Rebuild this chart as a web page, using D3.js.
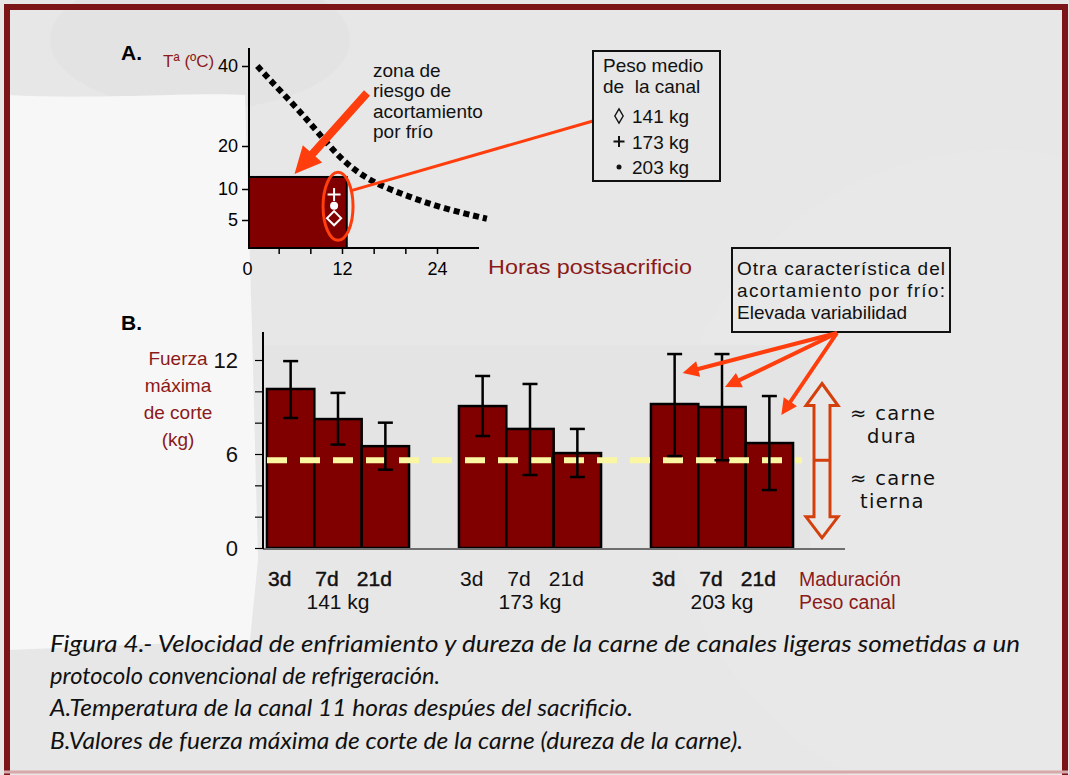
<!DOCTYPE html>
<html>
<head>
<meta charset="utf-8">
<script src="https://cdn.jsdelivr.net/npm/d3@7"></script>
<style>
  body { margin: 0; background: #ffffff; }
  svg { display: block; }
</style>
</head>
<body>
<svg id="fig" width="1069" height="775" font-family="Liberation Sans, Arial, sans-serif"></svg>
<script>
"use strict";

// ---- data: A. cooling curve of the carcass ----
const tempHours  = [1.3, 2.9, 6.3, 8.8, 12.1, 15.9, 20.6, 24.7, 30.3];
const tempValues = [40, 36.5, 29.5, 23.8, 16.3, 11.4, 8.7, 6.9, 5.2];
const tempTicks  = [5, 10, 20, 40];
const hourLabels = [0, 12, 24];
const hourTicks  = [4, 8, 12, 16, 20, 24];
const riskHours  = [0, 12.6];
const riskTemp   = [0, 12.8];
const weightLabels  = ["141 kg", "173 kg", "203 kg"];
const weightSymbols = ["diamond", "plus", "dot"];
const tempAt11h     = [5.3, 9.1, 7.3];
const sampleHour    = 11;

// ---- data: B. shear force (kg) ----
const agingDays  = ["3d", "7d", "21d"];
const weightGroups = ["141 kg", "173 kg", "203 kg"];
const forceMean  = [[10.15, 8.23, 6.5], [9.06, 7.6, 6.06], [9.19, 9.0, 6.7]];
const forceLow   = [[8.3, 6.6, 5.0], [7.15, 4.66, 4.53], [5.87, 5.6, 3.7]];
const forceHigh  = [[11.93, 9.9, 8.0], [10.98, 10.47, 7.6], [12.38, 12.38, 9.7]];
const forceTicks = [0, 2, 4, 6, 8, 10, 12];
const forceLabels = [0, 6, 12];
const toughLimit = 5.6;
const variableBars = [[2, 0, 11.17], [2, 1, 10.27], [2, 2, 8.49]]; // group, bar, value pointed at

const DARK = "#800000", RED_TXT = "#8b1a1a", ORANGE = "#ff3d0d";

const svg = d3.select("#fig");

// background + frame
svg.append("rect").attr("x", 0).attr("y", 0).attr("width", 1069).attr("height", 775).attr("fill", "#e7e7e7");
svg.append("ellipse").attr("cx", 200).attr("cy", 40).attr("rx", 150).attr("ry", 70).attr("fill", "#e1e1e1").attr("opacity", 0.6);
svg.append("path")
  .attr("d", "M8,95 C90,100 200,92 245,95 L252,330 L258,560 L250,640 L8,650 Z")
  .attr("fill", "#f7f7f7");
svg.append("circle").attr("cx", 1000).attr("cy", 480).attr("r", 330).attr("fill", "#eaeaea").attr("opacity", 0.6);
svg.append("path").attr("d", "M7,775 L7,7 L1065,7 L1065,775")
  .attr("fill", "none").attr("stroke", "#7c1518").attr("stroke-width", 6);
svg.append("line").attr("x1", 4).attr("x2", 1068).attr("y1", 772).attr("y2", 772)
  .attr("stroke", "#d8a8aa").attr("stroke-width", 3);

// arrow polygon helper
function arrowPts(x1, y1, x2, y2, shaft, headLen, headHalf) {
  const dx = x2 - x1, dy = y2 - y1, len = Math.hypot(dx, dy);
  const ux = dx / len, uy = dy / len, nx = -uy, ny = ux;
  const bx = x2 - ux * headLen, by = y2 - uy * headLen, s = shaft / 2;
  return [[x1 + nx * s, y1 + ny * s], [bx + nx * s, by + ny * s], [bx + nx * headHalf, by + ny * headHalf],
          [x2, y2], [bx - nx * headHalf, by - ny * headHalf], [bx - nx * s, by - ny * s], [x1 - nx * s, y1 - ny * s]];
}
const poly = d3.line();

//------------------------------------------------------------------
// A. temperature panel
const xA = d3.scaleLinear().domain([0, 24]).range([247, 437]);
const yA = d3.scaleLinear().domain([0, 5, 10, 20, 40]).range([248, 220, 189, 146, 66]);
const gA = svg.append("g");

// risk zone
gA.append("rect")
  .attr("x", xA(riskHours[0]) + 2).attr("y", yA(riskTemp[1]))
  .attr("width", xA(riskHours[1]) - xA(riskHours[0]) - 2)
  .attr("height", yA(riskTemp[0]) - yA(riskTemp[1]))
  .attr("fill", DARK).attr("stroke", "#000").attr("stroke-width", 2);

// axes
gA.append("line").attr("x1", xA(0) + 2).attr("x2", xA(0) + 2).attr("y1", 48).attr("y2", yA(0))
  .attr("stroke", "#000").attr("stroke-width", 2);
gA.append("line").attr("x1", xA(0) + 2).attr("x2", 479).attr("y1", yA(0)).attr("y2", yA(0))
  .attr("stroke", "#000").attr("stroke-width", 2);

const axA_y = gA.append("g").attr("transform", `translate(${xA(0) + 2},0)`)
  .call(d3.axisLeft(yA).tickValues(tempTicks).tickSize(7).tickPadding(4));
const axA_x = gA.append("g").attr("transform", `translate(0,${yA(0)})`)
  .call(d3.axisBottom(xA).tickValues(hourTicks).tickSize(6).tickFormat(""));
const axA_xl = gA.append("g").attr("transform", `translate(0,${yA(0)})`)
  .call(d3.axisBottom(xA).tickValues(hourLabels).tickSize(0).tickPadding(14));
[axA_y, axA_x, axA_xl].forEach(a => {
  a.select(".domain").remove();
  a.selectAll("line").attr("stroke", "#000").attr("stroke-width", 1.5);
  a.selectAll("text").attr("font-size", 18).attr("fill", "#000")
    .attr("font-family", "Liberation Sans, Arial, sans-serif");
});

// cooling curve
gA.append("path")
  .datum(tempHours.map((h, i) => [h, tempValues[i]]))
  .attr("d", d3.line().x(d => xA(d[0])).y(d => yA(d[1])).curve(d3.curveBasis))
  .attr("fill", "none").attr("stroke", "#000").attr("stroke-width", 6)
  .attr("stroke-dasharray", "6,4");

// measured carcass temperatures at 11 h
const ex = xA(sampleHour + 0.5), ey = yA(7.2);
gA.append("ellipse").attr("cx", ex).attr("cy", ey).attr("rx", 15).attr("ry", 34)
  .attr("fill", "none").attr("stroke", ORANGE).attr("stroke-width", 3);

function drawSymbol(g, kind, x, y, color, big) {
  if (kind === "diamond") {
    g.append("path").attr("transform", `translate(${x},${y})` + (big ? " rotate(45)" : ""))
      .attr("d", d3.symbol(big ? d3.symbolSquare : d3.symbolDiamond, big ? 100 : 60)())
      .attr("fill", "none").attr("stroke", color).attr("stroke-width", big ? 2 : 1.4);
  } else if (kind === "plus") {
    const r = big ? 6.5 : 5.5;
    g.append("path").attr("d", `M${x - r},${y}H${x + r}M${x},${y - r}V${y + r}`)
      .attr("stroke", color).attr("stroke-width", 2);
  } else {
    g.append("circle").attr("cx", x).attr("cy", y).attr("r", big ? 4 : 2.5).attr("fill", color);
  }
}
weightSymbols.forEach((k, i) => drawSymbol(gA, k, xA(sampleHour), yA(tempAt11h[i]), "#fff", true));

// connector to legend box
gA.append("line").attr("x1", ex + 14).attr("y1", ey - 16).attr("x2", 593).attr("y2", 121)
  .attr("stroke", ORANGE).attr("stroke-width", 3);

// risk zone arrow + label
gA.append("path").attr("d", poly(arrowPts(367, 93, xA(6), yA(riskTemp[1]) - 3, 8, 27, 13)) + "Z")
  .attr("fill", ORANGE);
["zona de", "riesgo de", "acortamiento", "por frío"].forEach((t, i) => {
  gA.append("text").attr("x", 373).attr("y", 77 + i * 20.3).attr("font-size", 19).attr("fill", "#111").text(t);
});

// legend box
gA.append("rect").attr("x", 593).attr("y", 51).attr("width", 127).attr("height", 130)
  .attr("fill", "none").attr("stroke", "#111").attr("stroke-width", 2);
gA.append("text").attr("x", 603).attr("y", 72).attr("font-size", 19).attr("fill", "#111").text("Peso medio");
gA.append("text").attr("x", 603).attr("y", 93).attr("font-size", 19).attr("fill", "#111")
  .style("white-space", "pre").text("de  la canal");
weightLabels.forEach((t, i) => {
  const by = 123 + i * 25.5;
  drawSymbol(gA, weightSymbols[i], 619, by - 7, "#111", false);
  gA.append("text").attr("x", 632).attr("y", by).attr("font-size", 19).attr("fill", "#111").text(t);
});

// titles
svg.append("text").attr("x", 121).attr("y", 60).attr("font-size", 21).attr("font-weight", "bold").text("A.");
svg.append("text").attr("x", 163).attr("y", 67).attr("font-size", 17).attr("fill", RED_TXT).text("Tª (ºC)");
svg.append("text").attr("x", 488).attr("y", 274).attr("font-size", 21).attr("fill", RED_TXT)
  .attr("textLength", 204).attr("lengthAdjust", "spacingAndGlyphs").text("Horas postsacrificio");

//------------------------------------------------------------------
// B. shear force panel
const yB = d3.scaleLinear().domain([0, 12]).range([548, 360]);
const xB = d3.scaleBand().domain(weightGroups).range([242, 818]).paddingInner(0.26).paddingOuter(0.13);
const xB1 = d3.scaleBand().domain(agingDays).range([0, xB.bandwidth()]);
const gB = svg.append("g");

gB.append("rect").attr("x", 263).attr("y", yB(12.95)).attr("width", 810 - 263).attr("height", yB(0) - yB(12.95))
  .attr("fill", "#e4e4e4");

const rows = [];
weightGroups.forEach((w, gi) => agingDays.forEach((d, bi) => rows.push({
  w, d, gi, bi, mean: forceMean[gi][bi], lo: forceLow[gi][bi], hi: forceHigh[gi][bi]
})));
const cx = r => xB(r.w) + xB1(r.d) + xB1.bandwidth() / 2;

gB.selectAll(".bar").data(rows).enter().append("rect")
  .attr("class", "bar")
  .attr("x", r => xB(r.w) + xB1(r.d)).attr("y", r => yB(r.mean))
  .attr("width", xB1.bandwidth()).attr("height", r => yB(0) - yB(r.mean))
  .attr("fill", DARK).attr("stroke", "#000").attr("stroke-width", 2.5);

// threshold dashes
gB.append("line").attr("x1", 267).attr("x2", 802).attr("y1", yB(toughLimit)).attr("y2", yB(toughLimit))
  .attr("stroke", "#fbf6a2").attr("stroke-width", 6).attr("stroke-dasharray", "20,13");

// error bars
const err = gB.selectAll(".err").data(rows).enter().append("g").attr("class", "err")
  .attr("stroke", "#000").attr("stroke-width", 2.5);
err.append("line").attr("x1", cx).attr("x2", cx).attr("y1", r => yB(r.hi)).attr("y2", r => yB(r.lo));
err.append("line").attr("x1", r => cx(r) - 7.5).attr("x2", r => cx(r) + 7.5).attr("y1", r => yB(r.hi)).attr("y2", r => yB(r.hi));
err.append("line").attr("x1", r => cx(r) - 7.5).attr("x2", r => cx(r) + 7.5).attr("y1", r => yB(r.lo)).attr("y2", r => yB(r.lo));

// axes
gB.append("line").attr("x1", 263).attr("x2", 845).attr("y1", yB(0) + 1).attr("y2", yB(0) + 1)
  .attr("stroke", "#6e6e6e").attr("stroke-width", 2);
gB.append("line").attr("x1", 263).attr("x2", 263).attr("y1", 332).attr("y2", yB(0) + 1)
  .attr("stroke", "#000").attr("stroke-width", 2);
const axB = gB.append("g").attr("transform", "translate(263,0)")
  .call(d3.axisLeft(yB).tickValues(forceTicks).tickSize(8).tickPadding(17)
    .tickFormat(d => forceLabels.includes(d) ? d : ""));
axB.select(".domain").remove();
axB.selectAll("line").attr("stroke", "#000").attr("stroke-width", 1.2);
axB.selectAll("text").attr("font-size", 22).attr("fill", "#111").attr("font-family", "Liberation Sans, Arial, sans-serif");

// category labels
gB.selectAll(".day").data(rows).enter().append("text")
  .attr("x", r => cx(r) - 11).attr("y", 586).attr("text-anchor", "middle")
  .attr("font-size", 21).attr("fill", "#111")
  .attr("stroke", r => r.gi === 1 ? "none" : "#111").attr("stroke-width", 0.45)
  .text(r => r.d);
gB.selectAll(".wt").data(weightGroups).enter().append("text")
  .attr("x", w => xB(w) + xB.bandwidth() / 2).attr("y", 609).attr("text-anchor", "middle")
  .attr("font-size", 21).attr("fill", "#111").text(w => w);
gB.append("text").attr("x", 799).attr("y", 586).attr("font-size", 19.5).attr("fill", RED_TXT).text("Maduración");
gB.append("text").attr("x", 799).attr("y", 609).attr("font-size", 19.5).attr("fill", RED_TXT).text("Peso canal");

svg.append("text").attr("x", 121).attr("y", 330).attr("font-size", 21).attr("font-weight", "bold").text("B.");
["Fuerza", "máxima", "de corte", "(kg)"].forEach((t, i) => {
  svg.append("text").attr("x", 178).attr("y", 365 + i * 27).attr("text-anchor", "middle")
    .attr("font-size", 19).attr("fill", RED_TXT).text(t);
});

// variability box + arrows
gB.append("rect").attr("x", 732).attr("y", 248).attr("width", 218).attr("height", 84)
  .attr("fill", "none").attr("stroke", "#111").attr("stroke-width", 2);
gB.append("text").attr("x", 737).attr("y", 275).attr("font-size", 19).attr("fill", "#111")
  .attr("textLength", 208).attr("lengthAdjust", "spacing").text("Otra característica del");
gB.append("text").attr("x", 737).attr("y", 297).attr("font-size", 19).attr("fill", "#111")
  .attr("textLength", 208).attr("lengthAdjust", "spacing").text("acortamiento por frío:");
gB.append("text").attr("x", 737).attr("y", 319).attr("font-size", 19).attr("fill", "#111").text("Elevada variabilidad");

const tipOff = [8, 3, 12];
variableBars.forEach((v, i) => {
  const r = rows.find(q => q.gi === v[0] && q.bi === v[1]);
  gB.append("path").attr("d", poly(arrowPts(837, 333, cx(r) + tipOff[i], yB(v[2]), 4, 16, 8)) + "Z")
    .attr("fill", ORANGE);
});

// tough / tender double arrow
const ax = 822, aTop = yB(10.5), aBot = yB(0.65), aMid = yB(toughLimit);
const dbl = [[ax, aTop], [ax + 16, aTop + 22], [ax + 8, aTop + 22], [ax + 8, aBot - 21], [ax + 16, aBot - 21],
             [ax, aBot], [ax - 16, aBot - 21], [ax - 8, aBot - 21], [ax - 8, aTop + 22], [ax - 16, aTop + 22]];
gB.append("path").attr("d", poly(dbl) + "Z").attr("fill", "none")
  .attr("stroke", "#d4400c").attr("stroke-width", 3).attr("stroke-linejoin", "miter");
gB.append("line").attr("x1", ax - 8).attr("x2", ax + 8).attr("y1", aMid).attr("y2", aMid)
  .attr("stroke", "#d4400c").attr("stroke-width", 3);

// tough / tender labels
[["≈ carne", 850, 420], ["dura", 867, 443], ["≈ carne", 850, 485], ["tierna", 860, 508]].forEach(l => {
  gB.append("text").attr("x", l[1]).attr("y", l[2])
    .attr("font-family", "DejaVu Sans, Verdana, sans-serif").attr("font-size", 19.5)
    .attr("letter-spacing", 1.3).attr("fill", "#111").text(l[0]);
});

//------------------------------------------------------------------
// caption
const caption = [
  ["Figura 4.- Velocidad de enfriamiento y dureza de la carne de canales ligeras sometidas a un", 652, 970],
  ["protocolo convencional de refrigeración.", 684, 390],
  ["A.Temperatura de la canal 11 horas despúes del sacrificio.", 716, 583],
  ["B.Valores de fuerza máxima de corte de la carne (dureza de la carne).", 749, 693]
];
caption.forEach(c => {
  svg.append("text").attr("x", 50).attr("y", c[1])
    .attr("font-family", "Lato, 'Open Sans', sans-serif").attr("font-style", "italic")
    .attr("font-size", 23).attr("fill", "#111")
    .attr("textLength", c[2]).attr("lengthAdjust", "spacingAndGlyphs")
    .text(c[0]);
});
</script>
</body>
</html>
